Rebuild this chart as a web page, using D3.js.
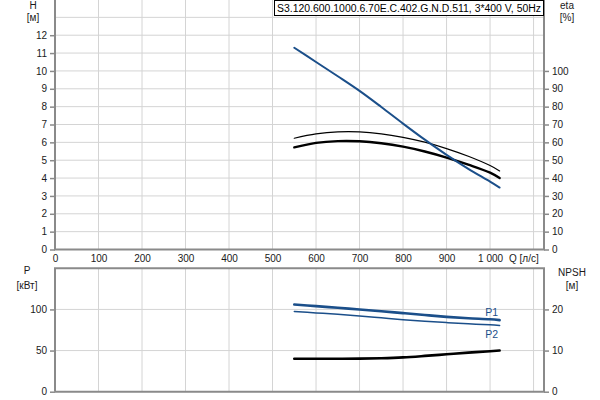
<!DOCTYPE html>
<html><head><meta charset="utf-8">
<script src="https://cdn.jsdelivr.net/npm/d3@7"></script>
<style>
body{margin:0;background:#fff;}
svg{display:block;font-family:"Liberation Sans",Arial,sans-serif;}
</style></head>
<body><svg id="c" width="600" height="400"></svg>
<script>
const title = "S3.120.600.1000.6.70E.C.402.G.N.D.511, 3*400 V, 50Hz";
const flow = [550, 600, 650, 700, 750, 800, 850, 900, 950, 1000, 1022];
const head = [11.3, 10.5, 9.7, 8.88, 7.98, 7.05, 6.15, 5.3, 4.52, 3.8, 3.47];
const etaTotal = [62.3, 64.7, 65.9, 65.9, 64.8, 62.8, 60.1, 56.5, 52.2, 47.0, 44.0];
const etaPump = [57.2, 59.7, 60.7, 60.6, 59.5, 57.6, 54.9, 51.5, 47.5, 43.0, 40.0];
const powerP1 = [106, 104, 102, 100, 97.8, 95.5, 93.2, 91, 89.3, 88, 87];
const powerP2 = [97.6, 95.8, 94, 92, 89.8, 87.6, 85.7, 84, 82.5, 81.3, 80.5];
const npsh = [8.0, 8.0, 8.0, 8.05, 8.15, 8.35, 8.7, 9.1, 9.5, 9.85, 10.0];
const qTicks = [0,100,200,300,400,500,600,700,800,900,1000];
const qGrid = [100,200,300,400,500,600,700,800,900,1000,1100];
const hTicks = [0,1,2,3,4,5,6,7,8,9,10,11,12];
const hGrid = [1,2,3,4,5,6,7,8,9,10,11,12,13];
const etaTicks = [0,10,20,30,40,50,60,70,80,90,100];
const pTicks = [0,50,100];
const npshTicks = [0,10,20];

const svg = d3.select("#c");
const L = 55, R = 544;
const blue = "#1b4f8a", grid = "#d4d4d4", axisCol = "#8a8a8a", txt = "#1a1a1a";
const x = d3.scaleLinear().domain([0,1124]).range([L,R]);
const yH = d3.scaleLinear().domain([0,14]).range([249.5,-0.5]);
const yEta = d3.scaleLinear().domain([0,140]).range([249.5,-0.5]);
const yP = d3.scaleLinear().domain([0,150]).range([391.7,268.3]);
const yN = d3.scaleLinear().domain([0,30]).range([391.7,268.3]);

const g = svg.append("g");
g.selectAll(".vg1").data(qGrid).join("line").attr("x1",d=>x(d)).attr("x2",d=>x(d)).attr("y1",0).attr("y2",249.5).attr("stroke",grid);
g.selectAll(".hg1").data(hGrid).join("line").attr("x1",L).attr("x2",R).attr("y1",d=>yH(d)).attr("y2",d=>yH(d)).attr("stroke",grid);
g.selectAll(".vg2").data(qGrid).join("line").attr("x1",d=>x(d)).attr("x2",d=>x(d)).attr("y1",268.3).attr("y2",391.7).attr("stroke",grid);
g.selectAll(".hg2").data([50,100]).join("line").attr("x1",L).attr("x2",R).attr("y1",d=>yP(d)).attr("y2",d=>yP(d)).attr("stroke",grid);

function styleAxis(sel){
  sel.select(".domain").remove();
  sel.selectAll(".tick line").attr("stroke",axisCol).attr("stroke-width",1.5);
  sel.selectAll("text").attr("fill",txt).attr("font-size",10);
}
svg.append("g").attr("transform",`translate(${L},0)`)
  .call(d3.axisLeft(yH).tickValues(hTicks).tickSize(5).tickPadding(3)).call(styleAxis);
svg.append("g").attr("transform",`translate(${R},0)`)
  .call(d3.axisRight(yEta).tickValues(etaTicks).tickSize(5).tickPadding(3)).call(styleAxis);
svg.append("g").attr("transform",`translate(0,249.5)`)
  .call(d3.axisBottom(x).tickValues(qTicks).tickSize(0).tickPadding(5)
    .tickFormat(d=> d>=1000 ? d3.format(",")(d).replace(","," ") : d)).call(styleAxis);
svg.append("g").attr("transform",`translate(${L},0)`)
  .call(d3.axisLeft(yP).tickValues(pTicks).tickSize(5).tickPadding(3)).call(styleAxis);
svg.append("g").attr("transform",`translate(${R},0)`)
  .call(d3.axisRight(yN).tickValues(npshTicks).tickSize(5).tickPadding(3)).call(styleAxis);

const fr = svg.append("g").attr("stroke",axisCol).attr("stroke-width",2).attr("fill","none");
fr.append("path").attr("d",`M${L},0V${yH(0)}H${R}V0`);
fr.append("path").attr("d",`M${L},${yP(0)}V${yP(150)}H${R}V${yP(0)}H${L}`);

const lab = (t,xx,yy,anchor="middle")=>svg.append("text").text(t).attr("x",xx).attr("y",yy).attr("text-anchor",anchor).attr("font-size",10).attr("fill",txt);
lab("H",33,9); lab("[м]",33,21);
lab("eta",567,9); lab("[%]",567,21);
lab("Q [л/с]",509,262,"start");
lab("P",27,274); lab("[кВт]",27,289);
lab("NPSH",572,276); lab("[м]",572,289);

const line = (ys,yS)=>d3.line().x((d,i)=>x(flow[i])).y(d=>yS(d)).curve(d3.curveCatmullRom.alpha(0.5))(ys);
const cg = svg.append("g").attr("fill","none").attr("stroke-linecap","round");
cg.append("path").attr("d",line(etaTotal,yEta)).attr("stroke","#000").attr("stroke-width",1.2);
cg.append("path").attr("d",line(etaPump,yEta)).attr("stroke","#000").attr("stroke-width",2.4);
cg.append("path").attr("d",line(head,yH)).attr("stroke",blue).attr("stroke-width",2);
cg.append("path").attr("d",line(npsh,yN)).attr("stroke","#000").attr("stroke-width",2.6);
cg.append("path").attr("d",line(powerP1,yP)).attr("stroke",blue).attr("stroke-width",2.6);
cg.append("path").attr("d",line(powerP2,yP)).attr("stroke",blue).attr("stroke-width",1.5);
svg.append("text").text("P1").attr("x",x(flow[flow.length-1])-8).attr("y",yP(powerP1[powerP1.length-1])-4).attr("text-anchor","middle").attr("font-size",10.5).attr("fill",blue);
svg.append("text").text("P2").attr("x",x(flow[flow.length-1])-8).attr("y",yP(powerP2[powerP2.length-1])+13).attr("text-anchor","middle").attr("font-size",10.5).attr("fill",blue);

svg.append("rect").attr("x",274.5).attr("y",0.5).attr("width",269).attr("height",15).attr("fill","#fff").attr("stroke","#000");
svg.append("text").text(title).attr("x",277).attr("y",12).attr("font-size",10).attr("fill","#000").attr("textLength",264).attr("lengthAdjust","spacingAndGlyphs");
</script></body></html>
